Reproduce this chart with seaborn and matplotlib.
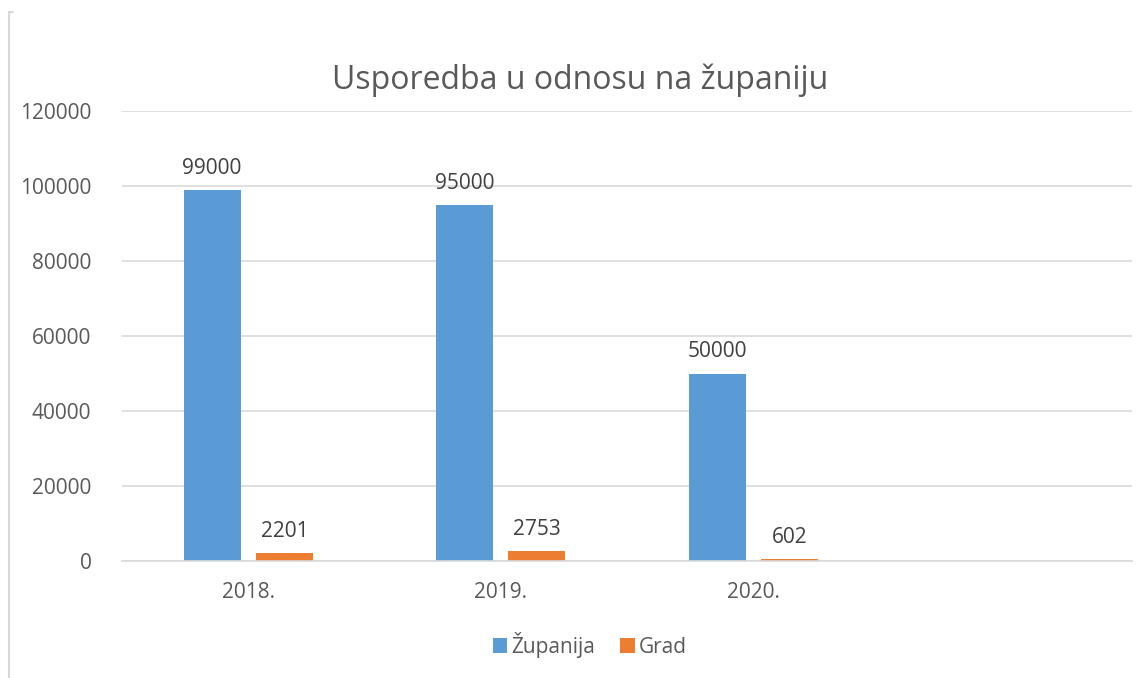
import matplotlib
matplotlib.use("Agg")
import matplotlib.pyplot as plt
import seaborn as sns
import pandas as pd
from matplotlib.lines import Line2D
from matplotlib.patches import Patch

categories = ["2018.", "2019.", "2020."]
zupanija = [99000, 95000, 50000]
grad = [2201, 2753, 602]
series_names = ["Županija", "Grad"]
yticks = [0, 20000, 40000, 60000, 80000, 100000, 120000]

df = pd.DataFrame({
    "godina": categories * 2,
    "vrijednost": zupanija + grad,
    "serija": [series_names[0]] * 3 + [series_names[1]] * 3,
})

sns.set_theme(style="white")
plt.rcParams["font.family"] = ["Open Sans", "DejaVu Sans"]

colors = ["#5B9BD5", "#ED7D31"]
fig = plt.figure(figsize=(11.47, 6.78), dpi=100)
ax = fig.add_axes([122/1147, 117/678, 1010/1147, 450/678])

sns.barplot(data=df, x="godina", y="vrijednost", hue="serija", order=categories,
            hue_order=series_names, palette=colors, width=0.574, gap=0.213,
            ax=ax, legend=False, saturation=1, errorbar=None,
            edgecolor="none", linewidth=0)

ax.set_xlim(-0.5, 3.5)
ax.set_ylim(0, 120000)
ax.set_xticks([0, 1, 2, 3])
ax.set_xticklabels(categories + [""])
ax.set_yticks(yticks)
ax.set_yticklabels([str(v) for v in yticks])
ax.yaxis.grid(True, color="#d9d9d9", linewidth=1.2)
ax.set_axisbelow(True)
for s in ["top", "right", "left"]:
    ax.spines[s].set_visible(False)
ax.spines["bottom"].set_color("#d9d9d9")
ax.spines["bottom"].set_linewidth(1.2)
ax.tick_params(axis="both", length=0, labelsize=15, colors="#595959")
ax.tick_params(axis="y", pad=22)
ax.tick_params(axis="x", pad=15)
ax.set_xlabel("")
ax.set_ylabel("")

for cont in ax.containers:
    ax.bar_label(cont, labels=[f"{int(v)}" for v in cont.datavalues],
                 padding=8, fontsize=15, color="#404040")

fig.text(580/1147, 1 - 80/678, "Usporedba u odnosu na županiju", ha="center",
         va="center", fontsize=23, color="#595959")

handles = [Patch(facecolor=c, edgecolor="none") for c in colors]
fig.legend(handles, series_names, loc="center", bbox_to_anchor=(590/1147, 1 - 645/678),
           ncol=2, frameon=False, fontsize=15, handlelength=0.7, handleheight=0.7,
           handletextpad=0.2, columnspacing=1.2, labelcolor="#595959")

fig.add_artist(Line2D([9/1147, 9/1147], [0, 1 - 12/678], color="#d9d9d9", linewidth=1.5))
fig.add_artist(Line2D([9/1147, 13/1147], [1 - 12/678, 1 - 12/678], color="#d9d9d9", linewidth=1.5))

fig.savefig("out.png", dpi=100, facecolor="white")
